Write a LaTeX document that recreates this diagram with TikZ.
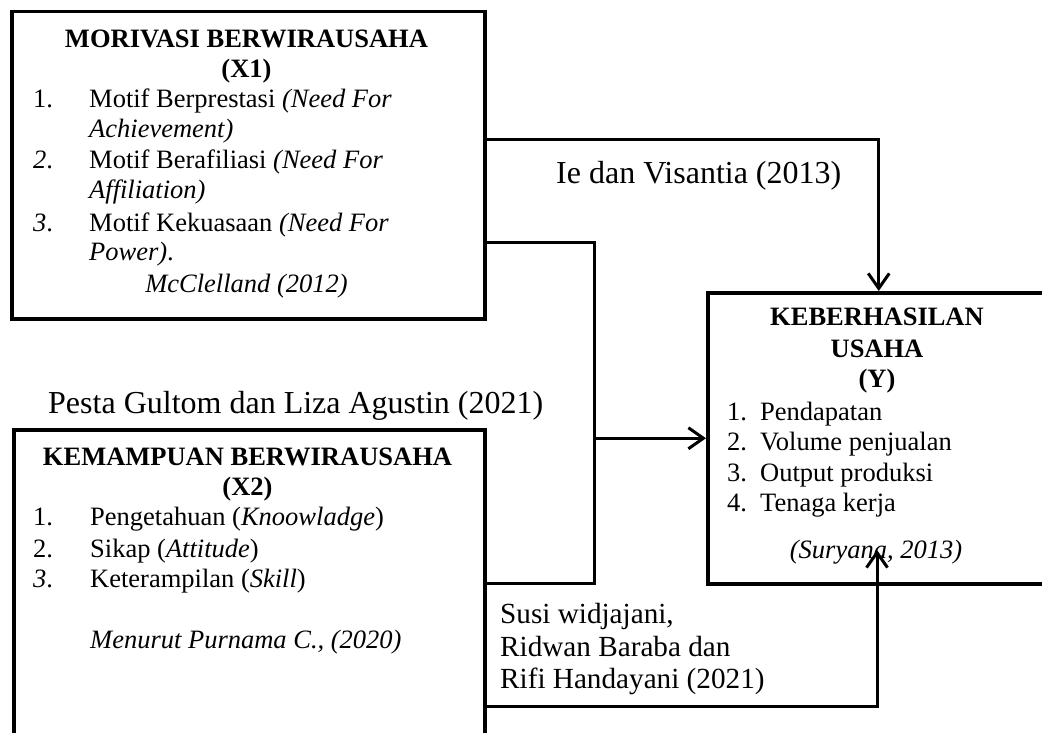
\documentclass[tikz,border=0pt]{standalone}
\usepackage{fontspec}
\setmainfont{Liberation Serif}
\usetikzlibrary{arrows.meta}
\begin{document}
\begin{tikzpicture}[x=1pt,y=-1pt,
  box/.style={draw,line width=3.5pt,rectangle,inner sep=0pt,anchor=north west},
  conn/.style={line width=3pt},
  arr/.style={conn,-{Straight Barb[length=15pt,width=21pt]}},
  tl/.style={inner sep=0pt,anchor=base west,font=\fontsize{26.5}{30.5}\selectfont},
  tc/.style={inner sep=0pt,anchor=base,font=\fontsize{26.5}{30.5}\selectfont},
  hd/.style={inner sep=0pt,anchor=base,font=\fontsize{26.5}{30.5}\selectfont\bfseries},
  lbl/.style={inner sep=0pt,anchor=base west,font=\fontsize{32}{36}\selectfont},
  lbs/.style={inner sep=0pt,anchor=base west,font=\fontsize{29.2}{33}\selectfont}
]
\fill[white] (0,0) rectangle (1042,733);
\useasboundingbox (0,0) rectangle (1042,733);
\clip (0,0) rectangle (1042,733);

% boxes
\node[box,minimum width=473pt,minimum height=307pt] (x1) at (10,10) {};
\node[box,minimum width=471pt,minimum height=340pt] (x2) at (12,428) {};
\node[box,minimum width=342pt,minimum height=291pt] (yb) at (706,291) {};

% X1 text
\node[hd] (x1h) at (246.5,48) {MORIVASI BERWIRAUSAHA};
\node[hd] (x1v) at (246.5,78) {(X1)};
\node[tl] (x1n1) at (33,108) {1.};
\node[tl] (x1a) at (89,108) {Motif Berprestasi \textit{(Need For}};
\node[tl] (x1b) at (89,138) {\textit{Achievement)}};
\node[tl] (x1n2) at (33,169) {\textit{2}.};
\node[tl] (x1c) at (89,169) {Motif Berafiliasi \textit{(Need For}};
\node[tl] (x1d) at (89,199) {\textit{Affiliation)}};
\node[tl] (x1n3) at (33,231) {\textit{3}.};
\node[tl] (x1e) at (89,231) {Motif Kekuasaan \textit{(Need For}};
\node[tl] (x1f) at (89,260) {\textit{Power)}.};
\node[tc] (x1s) at (246.5,292) {\textit{McClelland (2012)}};

% X2 text
\node[hd] (x2h) at (247.5,465) {KEMAMPUAN BERWIRAUSAHA};
\node[hd] (x2v) at (247.5,495) {(X2)};
\node[tl] (x2n1) at (33,525) {1.};
\node[tl] (x2a) at (90,525) {Pengetahuan (\textit{Knoowladge})};
\node[tl] (x2n2) at (33,557) {2.};
\node[tl] (x2b) at (90,557) {Sikap (\textit{Attitude})};
\node[tl] (x2n3) at (33,587) {\textit{3}.};
\node[tl] (x2c) at (90,587) {Keterampilan (\textit{Skill})};
\node[tl] (x2s) at (90,648) {\textit{Menurut Purnama C., (2020)}};

% Y text
\node[hd] (yh1) at (877,325) {KEBERHASILAN};
\node[hd] (yh2) at (877,357) {USAHA};
\node[hd] (yh3) at (877,387) {(Y)};
\node[tl] (yn1) at (727,420) {1.};
\node[tl] (ya) at (760,420) {Pendapatan};
\node[tl] (yn2) at (727,450) {2.};
\node[tl] (yb2) at (760,450) {Volume penjualan};
\node[tl] (yn3) at (727,481) {3.};
\node[tl] (yc) at (760,481) {Output produksi};
\node[tl] (yn4) at (727,511) {4.};
\node[tl] (yd) at (760,511) {Tenaga kerja};
\node[tc] (ys) at (876,558) {\textit{(Suryana, 2013)}};

% labels
\node[lbl] (l1) at (556,183) {Ie dan Visantia (2013)};
\node[lbl] (l2) at (48,413) {Pesta Gultom dan Liza Agustin (2021)};
\node[lbs] (l3a) at (500,623) {Susi widjajani,};
\node[lbs] (l3b) at (500,656) {Ridwan Baraba dan};
\node[lbs] (l3c) at (500,688) {Rifi Handayani (2021)};

% connectors
\coordinate (r1) at (0,140);
\draw[arr] (x1.east |- r1) -| (yb.north);

\coordinate (k1) at (594,242);
\coordinate (k2) at (594,583);
\draw[conn] (x1.east |- k1) -- (k1) -- (k2) -- (x2.east |- k2);
\draw[arr] (k1 |- yb.west) -- (yb.west);

\coordinate (k3) at (877,706);
\coordinate (tip) at (877,550);
\draw[arr] (x2.east |- k3) -- (k3) -- (tip);
\end{tikzpicture}
\end{document}
